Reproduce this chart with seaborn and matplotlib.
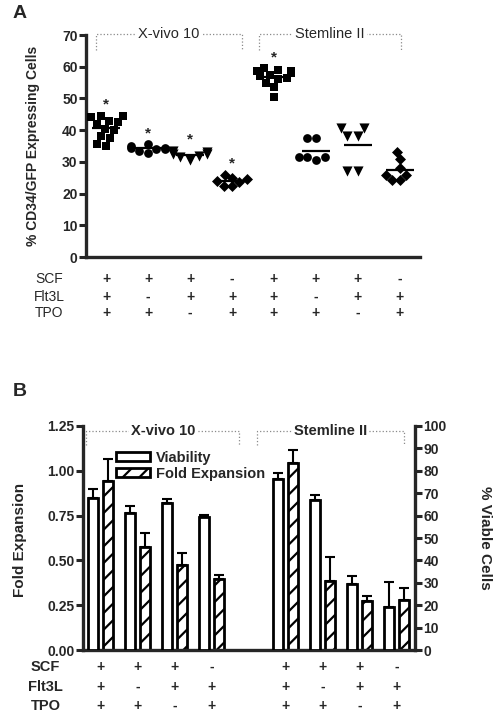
import numpy as np
import pandas as pd
import matplotlib
matplotlib.use("Agg")
import matplotlib.pyplot as plt
import matplotlib.transforms as mtransforms
from matplotlib.patches import Patch
from matplotlib.ticker import FormatStrFormatter
import seaborn as sns

# conditions (medium + cytokine combination)
conds = ["XV SFT", "XV ST", "XV SF", "XV FT", "SII SFT", "SII ST", "SII SF", "SII FT"]
scf = ["+", "+", "+", "-", "+", "+", "+", "-"]
flt3l = ["+", "-", "+", "+", "+", "-", "+", "+"]
tpo = ["+", "+", "-", "+", "+", "+", "-", "+"]

# panel A: % CD34/GFP expressing cells, individual points
a_values = [
    [44.5, 44.5, 44, 43, 42.5, 42, 40.5, 40, 38, 37.5, 35.5, 35],
    [35.5, 35, 34.5, 34.5, 34, 34, 33.5, 32.7],
    [33.5, 33, 32.5, 32.5, 32, 31.5, 30.5],
    [26, 25, 24.5, 24, 23.5, 22.5, 22.5],
    [59.5, 59, 58.5, 58.5, 58, 57.5, 57, 56.5, 56, 55, 53.5, 50.5],
    [37.5, 37.5, 31.5, 31.5, 31.5, 30.5],
    [40.6, 40.6, 38, 38, 27, 27],
    [33.2, 30.9, 28, 26, 25.9, 24.3, 24.3],
]
a_markers = ["s", "o", "v", "D", "s", "o", "v", "D"]
a_sizes = [6.3, 6.3, 7.3, 5.6, 6.3, 6.3, 7.3, 5.6]
a_sig = [True, True, True, True, True, False, False, False]

# panel B: fold expansion (left axis) and viability (right axis), mean + error
b_slots = [0, 1, 2, 3, 5, 6, 7, 8]
fold = [0.941, 0.573, 0.472, 0.396, 1.042, 0.385, 0.271, 0.278]
fold_err = [0.123, 0.079, 0.070, 0.024, 0.073, 0.132, 0.033, 0.067]
viab = [67.7, 61.1, 65.7, 59.2, 76.2, 66.8, 29.6, 19.1]
viab_err = [4.0, 3.1, 1.5, 1.0, 2.7, 2.2, 3.3, 11.1]

sns.set_theme(style="ticks")
plt.rcParams["font.family"] = ["Liberation Sans", "DejaVu Sans"]
plt.rcParams["hatch.linewidth"] = 1.6
plt.rcParams["axes.linewidth"] = 2.4

fig = plt.figure(figsize=(4.98, 7.16), dpi=100)

W, H = 498, 716
axA = fig.add_axes([86 / W, 1 - 257 / H, (420 - 86) / W, (257 - 35) / H])
axB = fig.add_axes([83 / W, 1 - 650 / H, (415 - 83) / W, (650 - 426) / H])

tick_kw = dict(width=2.2, length=5, pad=1, labelsize=10)

# ---------------- panel A ----------------
df_a = pd.DataFrame({
    "cond": [c for c, v in zip(conds, a_values) for _ in v],
    "pct": [x for v in a_values for x in v],
})
for c, m, s in zip(conds, a_markers, a_sizes):
    sns.swarmplot(data=df_a[df_a["cond"] == c], x="cond", y="pct", order=conds,
                  marker=m, size=s, color="black", linewidth=0, ax=axA)

for i, v in enumerate(a_values):
    axA.hlines(np.mean(v), i - 0.33, i + 0.33, color="black", lw=1.6, zorder=3)
    if a_sig[i]:
        axA.text(i, max(v) + 2.2, "*", ha="center", va="baseline",
                 fontsize=11, fontweight="bold")

axA.set_xlim(-0.48, 7.48)
axA.set_ylim(0, 70)
axA.set_yticks(np.arange(0, 71, 10))
axA.set_xticks([])
axA.set_xlabel("")
axA.set_ylabel("% CD34/GFP Expressing Cells", fontsize=10, fontweight="bold")
axA.yaxis.label.set_va("center")
axA.yaxis.set_label_coords(-0.16, 0.5)
axA.tick_params(axis="y", **tick_kw)
for lab in axA.get_yticklabels():
    lab.set_fontweight("bold")
sns.despine(ax=axA)

for x0, x1, name in [(-0.24, 3.24, "X-vivo 10"), (3.64, 7.02, "Stemline II")]:
    axA.plot([x0, x0, x1, x1], [65.3, 70.3, 70.3, 65.3], color="#8a8a8a",
             lw=0.9, ls=":", clip_on=False)
    axA.text((x0 + x1) / 2, 70.3, name, ha="center", va="center", fontsize=10.5,
             bbox=dict(fc="white", ec="none", pad=1.5), clip_on=False)

tA = mtransforms.blended_transform_factory(axA.transData, axA.transAxes)
for row_y, name, signs in zip([-0.099, -0.180, -0.252], ["SCF", "Flt3L", "TPO"],
                              [scf, flt3l, tpo]):
    axA.text(-1.36, row_y, name, transform=tA, ha="center", va="center", fontsize=10)
    for i, s in enumerate(signs):
        axA.text(i, row_y, s, transform=tA, ha="center", va="center",
                 fontsize=10, fontweight="bold")

# ---------------- panel B ----------------
ax2 = axB.twinx()
pos = np.array(b_slots, dtype=float)

sns.barplot(x=pos + 0.2, y=fold, native_scale=True, orient="x", width=0.28,
            color="white", saturation=1, edgecolor="black", linewidth=2,
            hatch="//", errorbar=None, ax=axB)
axB.errorbar(pos + 0.2, fold, yerr=[np.zeros(len(fold)), fold_err], fmt="none",
             ecolor="black", elinewidth=1.5, capsize=3.5, capthick=1.5, zorder=0.5)

sns.barplot(x=pos - 0.2, y=viab, native_scale=True, orient="x", width=0.28,
            color="white", saturation=1, edgecolor="black", linewidth=2,
            errorbar=None, ax=ax2)
ax2.errorbar(pos - 0.2, viab, yerr=[np.zeros(len(viab)), viab_err], fmt="none",
             ecolor="black", elinewidth=1.5, capsize=3.5, capthick=1.5, zorder=0.5)

axB.set_xlim(-0.47, 8.5)
axB.set_ylim(0, 1.25)
ax2.set_ylim(0, 100)
axB.set_yticks(np.arange(0, 1.26, 0.25))
axB.yaxis.set_major_formatter(FormatStrFormatter("%.2f"))
ax2.set_yticks(np.arange(0, 101, 10))
axB.set_xticks([])
ax2.set_xticks([])
axB.set_xlabel("")
axB.tick_params(axis="y", **tick_kw)
ax2.tick_params(axis="y", **tick_kw)
for lab in axB.get_yticklabels() + ax2.get_yticklabels():
    lab.set_fontweight("bold")
axB.spines["top"].set_visible(False)
axB.spines["right"].set_visible(False)
for sp in ["top", "left", "bottom"]:
    ax2.spines[sp].set_visible(False)

axB.set_ylabel("Fold Expansion", fontsize=11, fontweight="bold")
axB.yaxis.label.set_va("center")
axB.yaxis.set_label_coords(-0.19, 0.49)
ax2.set_ylabel("% Viable Cells", fontsize=11, fontweight="bold", rotation=270)
ax2.yaxis.label.set_va("center")
ax2.yaxis.set_label_coords(1.21, 0.5)

handles = [Patch(facecolor="white", edgecolor="black", linewidth=2, label="Viability"),
           Patch(facecolor="white", edgecolor="black", linewidth=2, hatch="//",
                 label="Fold Expansion")]
leg = ax2.legend(handles=handles, loc="upper left", bbox_to_anchor=(0.1, 0.89),
                 frameon=False, handlelength=2.3, handleheight=0.55,
                 handletextpad=0.4, labelspacing=0.15, borderpad=0, borderaxespad=0,
                 prop=dict(weight="bold", size=10.5))

for x0, x1, name in [(-0.38, 3.75, "X-vivo 10"), (4.23, 8.19, "Stemline II")]:
    axB.plot([x0, x0, x1, x1], [1.143, 1.223, 1.223, 1.143], color="#8a8a8a",
             lw=0.9, ls=":", clip_on=False)
    axB.text((x0 + x1) / 2, 1.223, name, ha="center", va="center", fontsize=10.5,
             fontweight="bold", bbox=dict(fc="white", ec="none", pad=1.5))

tB = mtransforms.blended_transform_factory(axB.transData, axB.transAxes)
for row_y, name, signs in zip([-0.0745, -0.164, -0.25], ["SCF", "Flt3L", "TPO"],
                              [scf, flt3l, tpo]):
    axB.text(-1.48, row_y, name, transform=tB, ha="center", va="center",
             fontsize=10.5, fontweight="bold")
    for p, s in zip(b_slots, signs):
        axB.text(p, row_y, s, transform=tB, ha="center", va="center",
                 fontsize=10, fontweight="bold")

fig.text(20 / W, 1 - 14 / H, "A", fontsize=14, fontweight="bold", ha="center", va="center")
fig.text(20 / W, 1 - 392 / H, "B", fontsize=14, fontweight="bold", ha="center", va="center")

fig.savefig("out.png", dpi=100)
